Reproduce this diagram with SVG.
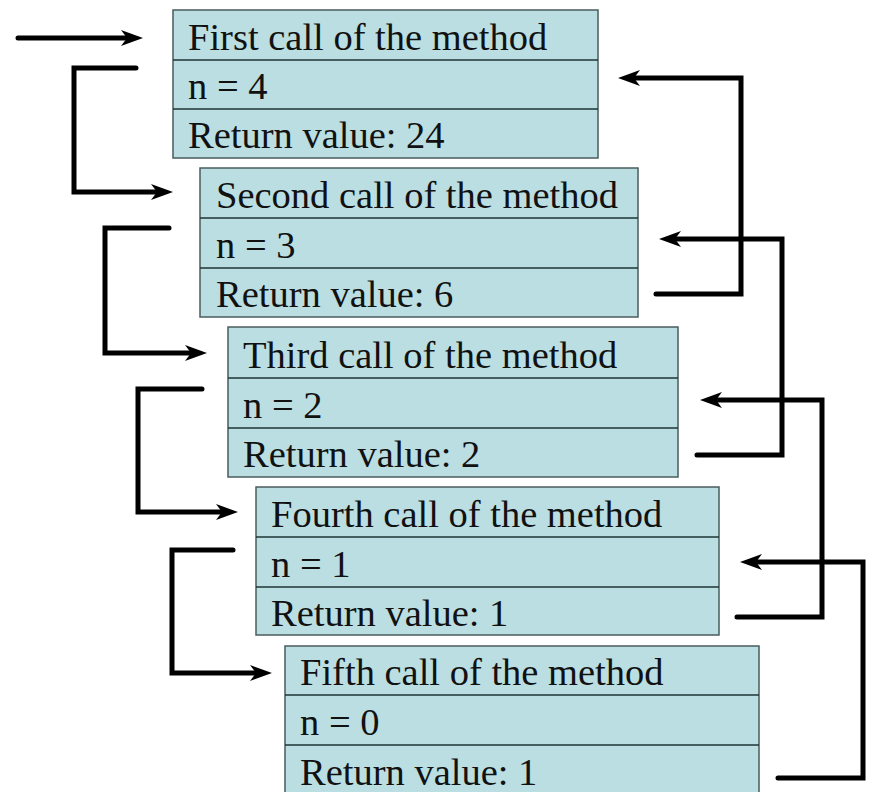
<svg xmlns="http://www.w3.org/2000/svg" width="870" height="792" viewBox="0 0 870 792">
<style>
.box{fill:#badee2;stroke:#4a5c5e;stroke-width:1.5}
.sep{stroke:#1e3436;stroke-width:1.5}
.t{font-family:"Liberation Serif","Times New Roman",serif;font-size:38.5px;fill:#111}
.c{fill:none;stroke:#000;stroke-width:5;stroke-linecap:round;stroke-linejoin:miter}
</style>
<defs>
<marker id="ah" markerUnits="userSpaceOnUse" markerWidth="24" markerHeight="18" refX="6" refY="8" orient="auto">
<path d="M0,0 L22,8 L0,16 L6,8 z" fill="#000"/>
</marker>
</defs>
<rect width="870" height="792" fill="#fff"/>
<g id="call1">
<rect class="box" x="173" y="10" width="425" height="148"/>
<line class="sep" x1="173" y1="60" x2="598" y2="60"/>
<line class="sep" x1="173" y1="109" x2="598" y2="109"/>
<text class="t" x="188" y="50">First call of the method</text>
<text class="t" x="188" y="99">n = 4</text>
<text class="t" x="188" y="148">Return value: 24</text>
</g>
<g id="call2">
<rect class="box" x="200" y="168" width="438" height="149"/>
<line class="sep" x1="200" y1="218" x2="638" y2="218"/>
<line class="sep" x1="200" y1="268" x2="638" y2="268"/>
<text class="t" x="216" y="208">Second call of the method</text>
<text class="t" x="216" y="258">n = 3</text>
<text class="t" x="216" y="307">Return value: 6</text>
</g>
<g id="call3">
<rect class="box" x="228" y="327" width="450" height="150"/>
<line class="sep" x1="228" y1="378" x2="678" y2="378"/>
<line class="sep" x1="228" y1="428" x2="678" y2="428"/>
<text class="t" x="243" y="368">Third call of the method</text>
<text class="t" x="243" y="418">n = 2</text>
<text class="t" x="243" y="467">Return value: 2</text>
</g>
<g id="call4">
<rect class="box" x="256" y="487" width="463" height="148"/>
<line class="sep" x1="256" y1="537" x2="719" y2="537"/>
<line class="sep" x1="256" y1="587" x2="719" y2="587"/>
<text class="t" x="271" y="527">Fourth call of the method</text>
<text class="t" x="271" y="577">n = 1</text>
<text class="t" x="271" y="626">Return value: 1</text>
</g>
<g id="call5">
<rect class="box" x="285" y="646" width="474" height="150"/>
<line class="sep" x1="285" y1="695" x2="759" y2="695"/>
<line class="sep" x1="285" y1="745" x2="759" y2="745"/>
<text class="t" x="300" y="685">Fifth call of the method</text>
<text class="t" x="300" y="735">n = 0</text>
<text class="t" x="300" y="785">Return value: 1</text>
</g>
<g id="connectors">
<path class="c" d="M18,38 H127" marker-end="url(#ah)"/>
<path class="c" d="M136,68 H74 V192 H157" marker-end="url(#ah)"/>
<path class="c" d="M169,228 H105 V353 H191" marker-end="url(#ah)"/>
<path class="c" d="M202,389 H138 V512 H222" marker-end="url(#ah)"/>
<path class="c" d="M233,550 H172 V673 H256" marker-end="url(#ah)"/>
<path class="c" d="M656,294 H741 V78 H634" marker-end="url(#ah)"/>
<path class="c" d="M697,455 H782 V239 H675" marker-end="url(#ah)"/>
<path class="c" d="M737,617 H822 V400 H716" marker-end="url(#ah)"/>
<path class="c" d="M778,778 H863 V562 H756" marker-end="url(#ah)"/>
</g>
</svg>
